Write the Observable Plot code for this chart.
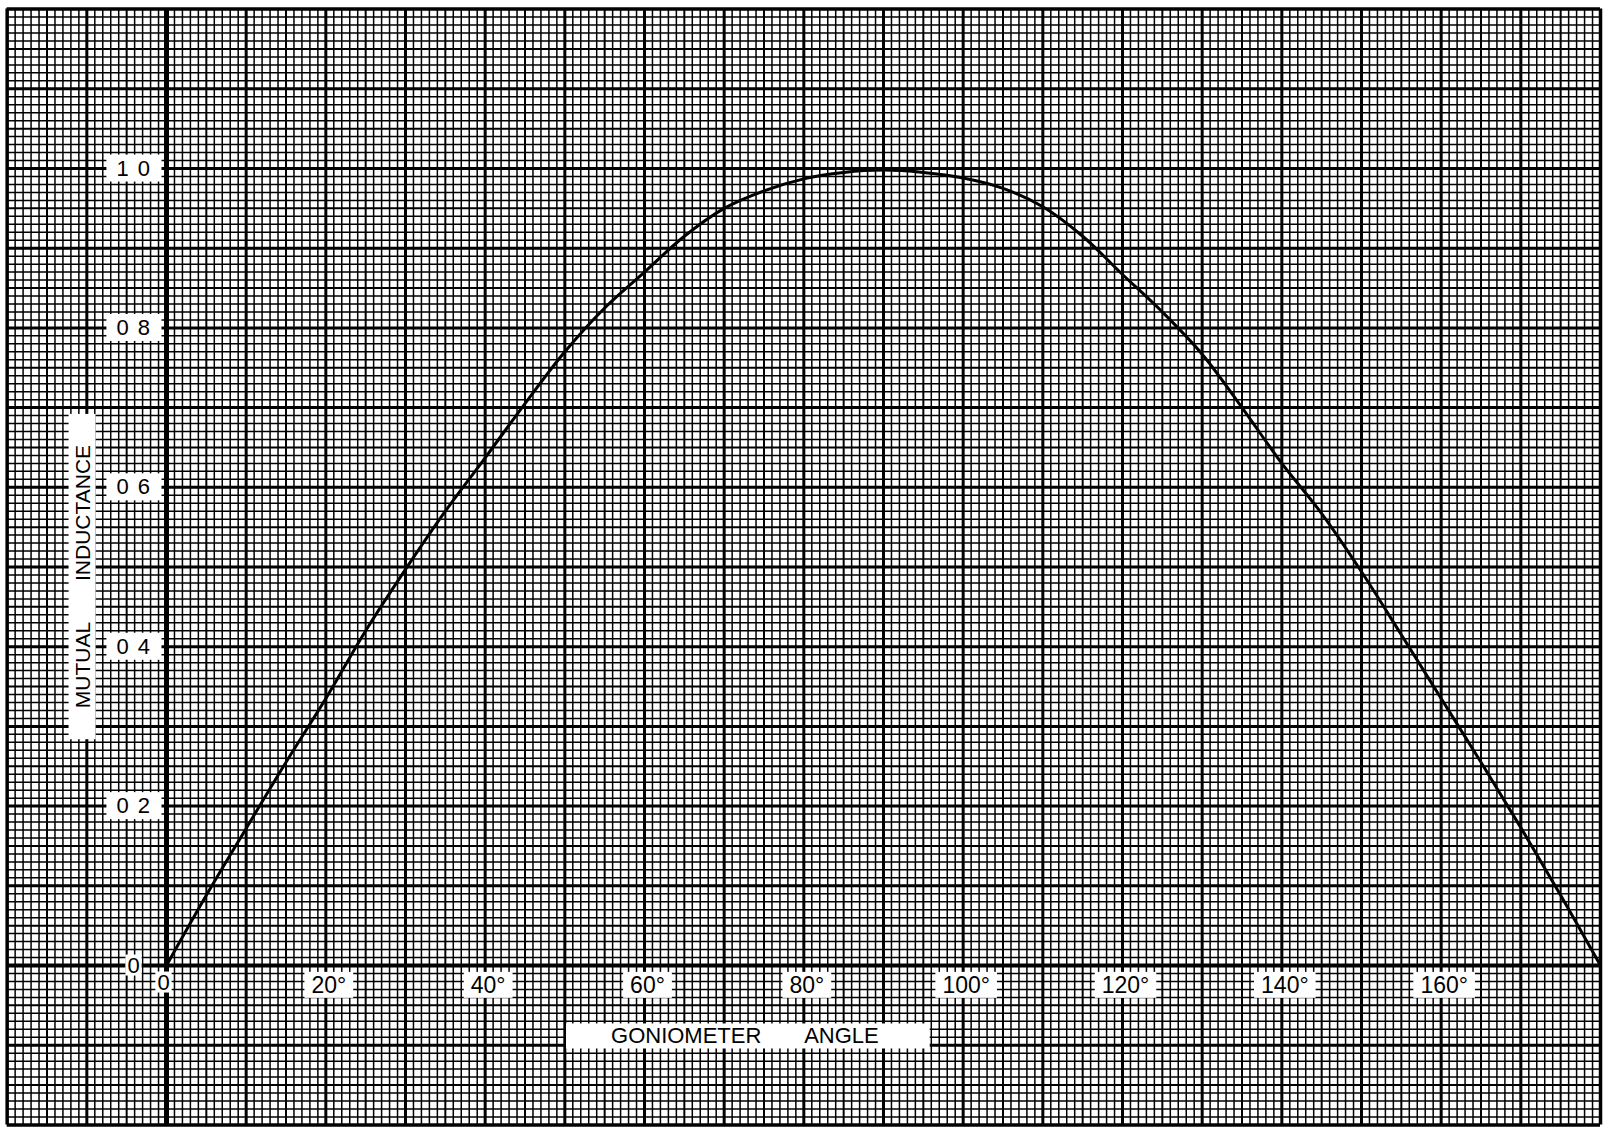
<!DOCTYPE html>
<html>
<head>
<meta charset="utf-8">
<script src="https://cdn.jsdelivr.net/npm/d3@7"></script>
<script src="https://cdn.jsdelivr.net/npm/@observablehq/plot@0.6"></script>
<style>
html, body { margin: 0; padding: 0; background: #fff; }
#chart { width: 1614px; height: 1129px; overflow: hidden; }
svg text { font-family: "Liberation Sans", Arial, sans-serif; }
</style>
</head>
<body>
<div id="chart"></div>
<script>
// ---- data ----
const angles = [0, 5, 10, 15, 20, 25, 30, 35, 40, 45, 50, 55, 60, 65, 70, 75, 80, 85, 90,
                95, 100, 105, 110, 115, 120, 125, 130, 135, 140, 145, 150, 155, 160, 165, 170, 175, 180];
const inductance = [0, 0.088, 0.172, 0.255, 0.335, 0.42, 0.497, 0.57, 0.637, 0.705, 0.77, 0.825, 0.87, 0.915, 0.95, 0.972, 0.987, 0.995, 0.998,
                    0.995, 0.988, 0.975, 0.952, 0.915, 0.867, 0.82, 0.767, 0.70, 0.63, 0.567, 0.494, 0.415, 0.335, 0.255, 0.173, 0.088, 0];

const xTickValues = [20, 40, 60, 80, 100, 120, 140, 160];
const xTickLabels = ["20°", "40°", "60°", "80°", "100°", "120°", "140°", "160°"];
const yTickValues = [0.2, 0.4, 0.6, 0.8, 1.0];
const yTickLabels = ["0 2", "0 4", "0 6", "0 8", "1 0"];
const originLabel = "0";
const NB = "\u00A0";
const xTitle = "GONIOMETER" + NB.repeat(7) + "ANGLE";
const yTitle = "MUTUAL" + NB.repeat(7) + "INDUCTANCE";

// graph paper extent (in chart units)
const paperXMin = -20, paperXMax = 180;
const paperYMin = -20, paperYMax = 120; // hundredths

// ---- derived tables ----
const curve = angles.map((a, i) => ({angle: a, m: inductance[i]}));
const xTicks = xTickValues.map((v, i) => ({v, label: xTickLabels[i]}));
const yTicks = yTickValues.map((v, i) => ({v, label: yTickLabels[i]}));

const xs = d3.range(paperXMin, paperXMax + 1);
const fineX = xs.filter(d => d % 5 !== 0);
const medX = xs.filter(d => d % 5 === 0 && d % 10 !== 0);
const heavyX = xs.filter(d => d % 10 === 0 && d !== 0 && d !== paperXMin && d !== paperXMax);
const edgeX = [paperXMin, paperXMax];
const ys = d3.range(paperYMin, paperYMax + 1);
const fineY = ys.filter(d => d % 5 !== 0).map(d => d / 100);
const medY = ys.filter(d => d % 5 === 0 && d % 10 !== 0).map(d => d / 100);
const heavyY = ys.filter(d => d % 10 === 0 && d !== 0 && d !== paperYMin && d !== paperYMax).map(d => d / 100);
const edgeY = [paperYMin / 100, paperYMax / 100];

const y1 = paperYMin / 100, y2 = paperYMax / 100;

const svg = Plot.plot({
  width: 1614,
  height: 1129,
  margin: 0,
  style: {background: "#fff", fontFamily: "Liberation Sans, Arial, sans-serif"},
  x: {domain: [0, 180], range: [166, 1600], axis: null},
  y: {domain: [0, 1], range: [965, 168], axis: null},
  marks: [
    Plot.ruleX(fineX, {y1, y2, stroke: "#000", strokeWidth: 1.5}),
    Plot.ruleY(fineY, {x1: paperXMin, x2: paperXMax, stroke: "#000", strokeWidth: 1.5}),
    Plot.ruleX(medX, {y1, y2, stroke: "#000", strokeWidth: 2}),
    Plot.ruleY(medY, {x1: paperXMin, x2: paperXMax, stroke: "#000", strokeWidth: 2}),
    Plot.ruleX(heavyX, {y1, y2, stroke: "#000", strokeWidth: 3}),
    Plot.ruleY(heavyY, {x1: paperXMin, x2: paperXMax, stroke: "#000", strokeWidth: 3}),
    Plot.ruleX(edgeX, {y1, y2, stroke: "#000", strokeWidth: 3.5}),
    Plot.ruleY(edgeY, {x1: paperXMin, x2: paperXMax, stroke: "#000", strokeWidth: 3.5}),
    // axes
    Plot.ruleX([0], {y1, y2, stroke: "#000", strokeWidth: 5}),
    Plot.ruleY([0], {x1: paperXMin, x2: paperXMax, stroke: "#000", strokeWidth: 4}),
    // curve
    Plot.line(curve, {x: "angle", y: "m", stroke: "#000", strokeWidth: 3, curve: "catmull-rom"}),
    // labels
    Plot.text(xTicks, {x: "v", y: 0, text: "label", dx: 3, dy: 20, fontSize: 23, fill: "#000"}),
    Plot.text(yTicks, {x: 0, y: "v", text: "label", textAnchor: "end", dx: -15, fontSize: 22, fill: "#000"}),
    Plot.text([originLabel], {x: 0, y: 0, text: d => d, dx: -33, fontSize: 22, fill: "#000"}),
    Plot.text([originLabel], {x: 0, y: 0, text: d => d, dx: -3, dy: 17, fontSize: 22, fill: "#000"}),
    Plot.text([xTitle], {x: 72.6, y: -0.089, text: d => d, fontSize: 22, fill: "#000"}),
    Plot.text([yTitle], {x: -10.5, y: 0.488, text: d => d, rotate: -90, fontSize: 21, fill: "#000"})
  ]
});

document.getElementById("chart").append(svg);

// white label boxes behind the texts (padding: left, right, vertical)
function padFor(s) {
  if (xTickLabels.includes(s)) return [7, 7, 0];
  if (yTickLabels.includes(s)) return [10, 10, 1];
  if (s === originLabel) return [2, 2, -2];
  if (s === xTitle) return [45, 51, 0];
  if (s === yTitle) return [31, 31, 2];
  return null;
}
svg.querySelectorAll("text").forEach(t => {
  if (yTickLabels.includes(t.textContent)) t.style.letterSpacing = "1.5px";
});
svg.querySelectorAll("text").forEach(t => {
  const p = padFor(t.textContent);
  if (!p) return;
  const [pl, pr, py] = p;
  const b = t.getBBox();
  const r = document.createElementNS("http://www.w3.org/2000/svg", "rect");
  r.setAttribute("x", b.x - pl);
  r.setAttribute("y", b.y - py);
  r.setAttribute("width", b.width + pl + pr);
  r.setAttribute("height", b.height + 2 * py);
  r.setAttribute("fill", "#fff");
  const tr = t.getAttribute("transform");
  if (tr) r.setAttribute("transform", tr);
  t.parentNode.insertBefore(r, t);
});
</script>
</body>
</html>
